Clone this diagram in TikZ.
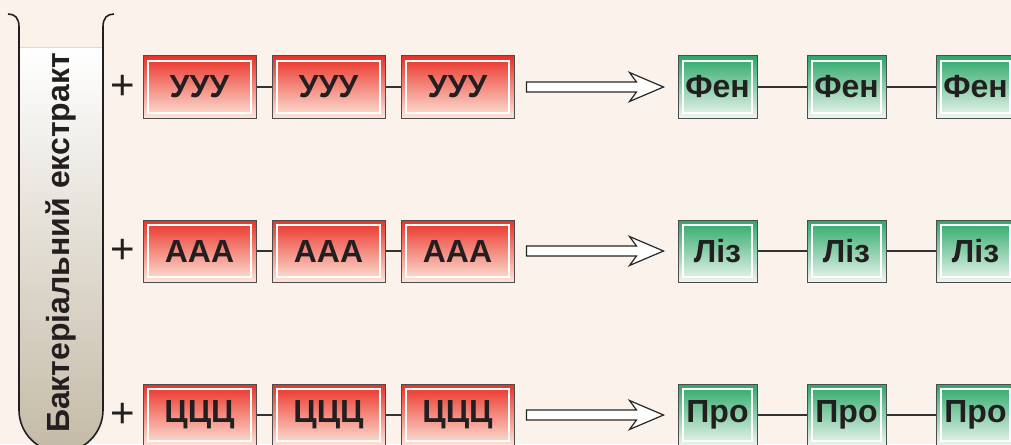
\documentclass[tikz,border=0pt]{standalone}
\usepackage{fontspec}
\setmainfont{Liberation Sans}
\usetikzlibrary{positioning, calc}

\definecolor{bg}{RGB}{251,242,236}
\definecolor{ink}{RGB}{35,31,32}
\definecolor{redtop}{RGB}{234,48,38}
\definecolor{redmid}{RGB}{242,118,84}
\definecolor{redbot}{RGB}{253,230,218}
\definecolor{greentop}{RGB}{44,168,104}
\definecolor{greenmid}{RGB}{100,188,138}
\definecolor{greenbot}{RGB}{238,246,240}
\definecolor{tubebot}{RGB}{196,186,166}

\newcommand{\fatarrow}[2]{%
  \draw[fatarrow] let \p1=($(#1.east)+(12pt,0)$), \p2=($(#2.west)+(-14pt,0)$) in
    (\x1,\y1+5pt) -- (\x2-27pt,\y1+5pt) -- (\x2-34pt,\y1+14.5pt) -- (\x2,\y1)
    -- (\x2-34pt,\y1-14.5pt) -- (\x2-27pt,\y1-5pt) -- (\x1,\y1-5pt) -- cycle;}

\begin{document}
\begin{tikzpicture}[node distance=129pt,
    every node/.style={font=\fontsize{32}{36}\selectfont\bfseries, text=ink},
    frame/.style={path picture={\draw[white, line width=1.6pt]
        ([xshift=5pt,yshift=-5pt]path picture bounding box.north west) rectangle
        ([xshift=-5pt,yshift=5pt]path picture bounding box.south east);}},
    codon/.style={draw=black!70, line width=1pt, rectangle, inner sep=0pt,
        minimum width=113pt, minimum height=62pt,
        top color=redtop, middle color=redmid, bottom color=redbot, frame},
    amino/.style={draw=black!70, line width=1pt, rectangle, inner sep=0pt,
        minimum width=79pt, minimum height=62pt,
        top color=greentop, middle color=greenmid, bottom color=greenbot, frame},
    plus/.style={font=\fontsize{42}{46}\selectfont},
    link/.style={draw=black!80, line width=1.2pt},
    fatarrow/.style={draw=black!85, line width=1.2pt, fill=white}]

    \useasboundingbox (0,0) rectangle (1011pt,-444pt);
    \fill[bg] (0,0) rectangle (1011pt,-444pt);

    % test tube
    \fill[top color=white, bottom color=tubebot] (19pt,-48pt) -- (19pt,-410pt)
        arc[start angle=180, end angle=360, radius=42pt] -- (103pt,-48pt) -- cycle;
    \draw[ink, line width=1.6pt] (8pt,-14pt) .. controls (15pt,-14pt) and (19pt,-18pt) .. (19pt,-27pt)
        -- (19pt,-410pt) arc[start angle=180, end angle=360, radius=42pt]
        -- (103pt,-27pt) .. controls (103pt,-18pt) and (107pt,-14pt) .. (114pt,-14pt);
    \node (extract) [rotate=90] at (61pt,-243pt) {Бактеріальний екстракт};

    % codons
    \node (u1) [codon] at (199.5pt,-87pt) {УУУ};
    \node (u2) [codon, right of=u1] {УУУ};
    \node (u3) [codon, right of=u2] {УУУ};
    \node (a1) [codon, below of=u1, node distance=164pt] {ААА};
    \node (a2) [codon, right of=a1] {ААА};
    \node (a3) [codon, right of=a2] {ААА};
    \node (c1) [codon, below of=a1, node distance=164pt] {ЦЦЦ};
    \node (c2) [codon, right of=c1] {ЦЦЦ};
    \node (c3) [codon, right of=c2] {ЦЦЦ};

    \node (pu) [plus, left of=u1, node distance=77pt] {+};
    \node (pa) [plus, left of=a1, node distance=77pt] {+};
    \node (pc) [plus, left of=c1, node distance=77pt] {+};

    % amino acids
    \node (f1) [amino, right of=u3, node distance=260pt] {Фен};
    \node (f2) [amino, right of=f1] {Фен};
    \node (f3) [amino, right of=f2] {Фен};
    \node (l1) [amino, right of=a3, node distance=260pt] {Ліз};
    \node (l2) [amino, right of=l1] {Ліз};
    \node (l3) [amino, right of=l2] {Ліз};
    \node (p1) [amino, right of=c3, node distance=260pt] {Про};
    \node (p2) [amino, right of=p1] {Про};
    \node (p3) [amino, right of=p2] {Про};

    \draw [link] (u1) -- (u2);
    \draw [link] (u2) -- (u3);
    \draw [link] (a1) -- (a2);
    \draw [link] (a2) -- (a3);
    \draw [link] (c1) -- (c2);
    \draw [link] (c2) -- (c3);
    \draw [link] (f1) -- (f2);
    \draw [link] (f2) -- (f3);
    \draw [link] (l1) -- (l2);
    \draw [link] (l2) -- (l3);
    \draw [link] (p1) -- (p2);
    \draw [link] (p2) -- (p3);

    \fatarrow{u3}{f1}
    \fatarrow{a3}{l1}
    \fatarrow{c3}{p1}
\end{tikzpicture}
\end{document}
